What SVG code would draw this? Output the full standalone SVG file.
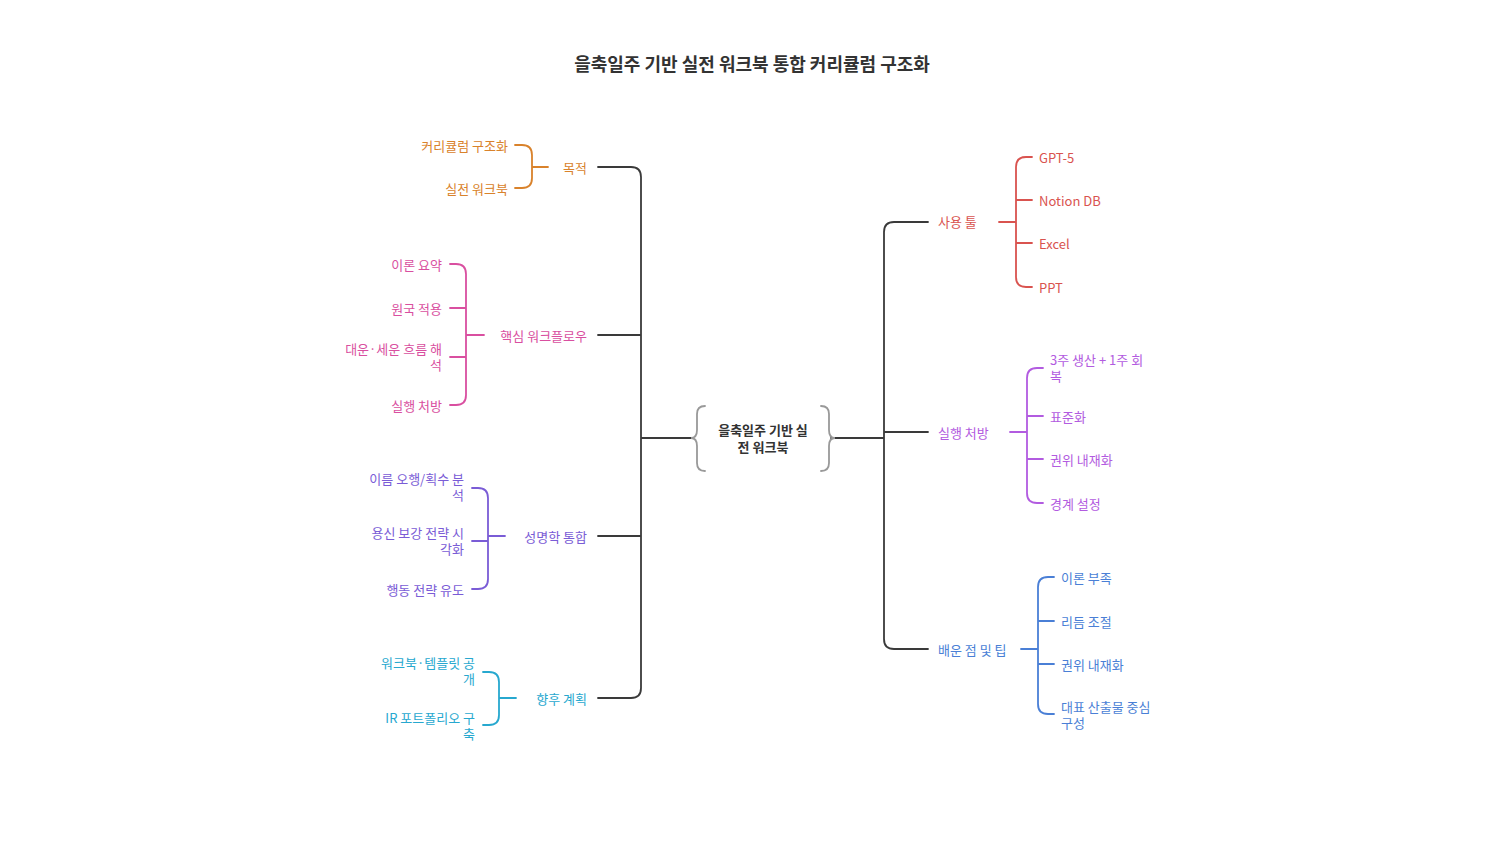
<svg xmlns="http://www.w3.org/2000/svg" width="1504" height="845" viewBox="0 0 1504 845">
<style>
text{font-family:"Noto Sans CJK KR","Noto Sans",sans-serif;font-size:13px;dominant-baseline:middle}
.r{text-anchor:end}
path{fill:none;stroke-width:1.8;stroke-linecap:round}
.k{stroke:#3a3a3a}
</style>
<rect width="1504" height="845" fill="#fff"/>
<text x="752" y="66" text-anchor="middle" style="font-size:18px;font-weight:bold" fill="#333">을축일주 기반 실전 워크북 통합 커리큘럼 구조화</text>
<g id="connectors">
<path class="k" d="M598 167H631Q641 167 641 177V688Q641 698 631 698H598M598 335H641M598 536H641M641 438H693"/>
<path class="k" d="M928 222H894Q884 222 884 232V639Q884 649 894 649H928M928 432H884M831 438H884"/>
<path stroke="#d9822b" d="M515 145H522Q532 145 532 155V178Q532 188 522 188H515M532 167H548"/>
<path stroke="#d94fa0" d="M450 264H456Q466 264 466 274V395Q466 405 456 405H450M450 308H466M450 357H466M466 335H484"/>
<path stroke="#7a5cd6" d="M472 488H478Q488 488 488 498V579Q488 589 478 589H472M472 541H488M488 536H505"/>
<path stroke="#27a8cf" d="M483 672H489Q499 672 499 682V715Q499 725 489 725H483M499 698H516"/>
<path stroke="#d9534f" d="M999 222H1016M1032 157H1026Q1016 157 1016 167V277Q1016 287 1026 287H1032M1016 200H1032M1016 243H1032"/>
<path stroke="#b25be0" d="M1010 432H1027M1043 368H1037Q1027 368 1027 378V493Q1027 503 1037 503H1043M1027 416H1043M1027 459H1043"/>
<path stroke="#4a7fd6" d="M1021 649H1038M1054 577H1048Q1038 577 1038 587V704Q1038 714 1048 714H1054M1038 621H1054M1038 664H1054"/>
</g>
<g transform="translate(0,2)">
<g id="center">
<path stroke="#999" transform="translate(0,-2)" d="M705 406Q697 406 697 414V430Q697 438 691 438Q697 438 697 446V463Q697 471 705 471M821 406Q829 406 829 414V430Q829 438 835 438Q829 438 829 446V463Q829 471 821 471"/>
<text x="763" y="429" text-anchor="middle" style="font-weight:bold" fill="#333">을축일주 기반 실</text>
<text x="763" y="446" text-anchor="middle" style="font-weight:bold" fill="#333">전 워크북</text>
</g>
<g id="n-purpose" fill="#d9822b"><text class="r" x="587" y="167">목적</text><text class="r" x="508" y="145">커리큘럼 구조화</text><text class="r" x="508" y="188">실전 워크북</text></g>
<g id="n-workflow" fill="#d94fa0"><text class="r" x="587" y="335">핵심 워크플로우</text><text class="r" x="442" y="264">이론 요약</text><text class="r" x="442" y="308">원국 적용</text><text class="r" x="442" y="348">대운·세운 흐름 해</text><text class="r" x="442" y="364">석</text><text class="r" x="442" y="405">실행 처방</text></g>
<g id="n-naming" fill="#7a5cd6"><text class="r" x="587" y="536">성명학 통합</text><text class="r" x="464" y="478">이름 오행/획수 분</text><text class="r" x="464" y="494">석</text><text class="r" x="464" y="532">용신 보강 전략 시</text><text class="r" x="464" y="548">각화</text><text class="r" x="464" y="589">행동 전략 유도</text></g>
<g id="n-future" fill="#27a8cf"><text class="r" x="587" y="698">향후 계획</text><text class="r" x="475" y="662">워크북·템플릿 공</text><text class="r" x="475" y="678">개</text><text class="r" x="475" y="717">IR 포트폴리오 구</text><text class="r" x="475" y="733">축</text></g>
<g id="n-tools" fill="#d9534f"><text x="938" y="221">사용 툴</text><text x="1039" y="157">GPT-5</text><text x="1039" y="200">Notion DB</text><text x="1039" y="243">Excel</text><text x="1039" y="287">PPT</text></g>
<g id="n-exec" fill="#b25be0"><text x="938" y="432">실행 처방</text><text x="1050" y="359">3주 생산 + 1주 회</text><text x="1050" y="375">복</text><text x="1050" y="416">표준화</text><text x="1050" y="459">권위 내재화</text><text x="1050" y="503">경계 설정</text></g>
<g id="n-lessons" fill="#4a7fd6"><text x="938" y="649">배운 점 및 팁</text><text x="1061" y="577">이론 부족</text><text x="1061" y="621">리듬 조절</text><text x="1061" y="664">권위 내재화</text><text x="1061" y="706">대표 산출물 중심</text><text x="1061" y="722">구성</text></g>
</g>
</svg>
